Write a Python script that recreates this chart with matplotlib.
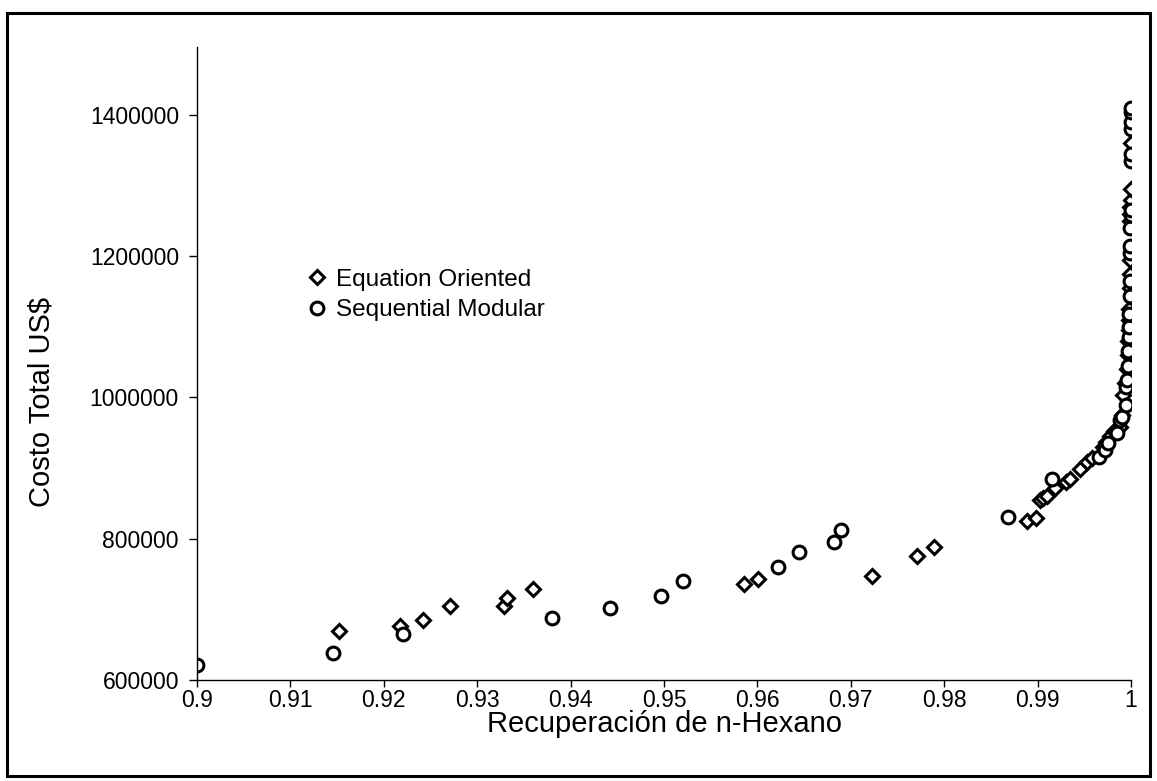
import numpy as np
import matplotlib
matplotlib.use("Agg")
import matplotlib.pyplot as plt
from matplotlib.patches import Rectangle
from matplotlib.ticker import FuncFormatter, MultipleLocator

plt.rcParams['font.family'] = ['Liberation Sans', 'DejaVu Sans']

# Equation Oriented (diamonds)
eo_x = [0.9152, 0.9217, 0.9242, 0.9271, 0.9329, 0.9332, 0.9360, 0.9586, 0.9601,
        0.9723, 0.9771, 0.9789, 0.9889, 0.9898, 0.9903, 0.9906, 0.9910, 0.9919,
        0.9930, 0.9935, 0.9945, 0.9953, 0.9958, 0.9970, 0.9973, 0.9978, 0.9982,
        0.9988, 0.9990, 0.9991, 0.9994, 0.9996, 0.9997, 0.9997, 0.9998, 0.9998,
        0.9998, 0.9999, 0.9999, 0.9999, 0.9999, 0.9999, 0.9999, 1.0000, 1.0000,
        1.0000]
eo_y = [670000, 676000, 685000, 705000, 705000, 716000, 729000, 736000, 743000,
        747000, 776000, 788000, 825000, 829000, 855000, 858000, 860000, 872000,
        880000, 884000, 898000, 908000, 914000, 930000, 937000, 946000, 952000,
        958000, 975000, 1003000, 1020000, 1040000, 1060000, 1080000, 1095000, 1110000,
        1125000, 1155000, 1175000, 1195000, 1250000, 1260000, 1270000, 1280000, 1295000,
        1360000]

# Sequential Modular (circles)
sm_x = [0.9000, 0.9146, 0.9221, 0.9380, 0.9442, 0.9497, 0.9520, 0.9622, 0.9645,
        0.9682, 0.9690, 0.9868, 0.9915, 0.9966, 0.9972, 0.9975, 0.9985, 0.9988,
        0.9990, 0.9995, 0.9995, 0.9996, 0.9997, 0.9997, 0.9998, 0.9998, 0.9998,
        0.9999, 0.9999, 0.9999, 0.9999, 0.9999, 1.0000, 1.0000, 1.0000, 1.0000,
        1.0000, 1.0000, 1.0000, 1.0000]
sm_y = [621000, 638000, 665000, 688000, 702000, 719000, 740000, 760000, 781000,
        795000, 812000, 831000, 884000, 916000, 926000, 935000, 950000, 968000,
        972000, 989000, 1015000, 1025000, 1045000, 1065000, 1085000, 1100000, 1118000,
        1143000, 1165000, 1205000, 1215000, 1240000, 1258000, 1265000, 1335000, 1345000,
        1380000, 1390000, 1404000, 1410000]

fig = plt.figure(figsize=(11.57, 7.81), dpi=100)
ax = fig.add_axes([197/1157, 1 - 680/781, 934/1157, 633/781])

ax.plot(eo_x, eo_y, ls='none', marker='D', ms=7.2, mfc='white', mec='black', mew=2.2,
        label='Equation Oriented')
ax.plot(sm_x, sm_y, ls='none', marker='o', ms=9.2, mfc='white', mec='black', mew=2.2,
        label='Sequential Modular')

ax.set_xlim(0.9, 1.0)
ax.set_ylim(600000, 1496000)
ax.xaxis.set_major_locator(MultipleLocator(0.01))
ax.yaxis.set_major_locator(MultipleLocator(200000))
ax.xaxis.set_major_formatter(FuncFormatter(lambda v, p: '%g' % round(v, 2)))
ax.yaxis.set_major_formatter(FuncFormatter(lambda v, p: '%d' % v))
ax.tick_params(axis='both', direction='out', width=1, labelsize=16.5)
ax.tick_params(axis='y', length=6, pad=7)
ax.tick_params(axis='x', length=5, pad=1.5)

ax.spines['top'].set_visible(False)
ax.spines['right'].set_visible(False)
ax.spines['left'].set_linewidth(1)
ax.spines['bottom'].set_linewidth(1)

ax.set_xlabel('Recuperación de n-Hexano', fontsize=21)
ax.set_ylabel('Costo Total US$', fontsize=21)
ax.xaxis.set_label_coords(0.501, -0.047)
ax.yaxis.set_label_coords(-0.152, 0.44)

ax.legend(loc='upper left', bbox_to_anchor=(0.11, 0.665), frameon=False,
          fontsize=17.5, handlelength=0.6, handletextpad=0.5, labelspacing=0.35,
          borderaxespad=0)

fig.patches.append(Rectangle((7/1157, 1 - 776/781), 1143/1157, 763/781,
                             transform=fig.transFigure, fill=False, lw=2.2,
                             edgecolor='black'))

fig.savefig('out.png', dpi=100)
